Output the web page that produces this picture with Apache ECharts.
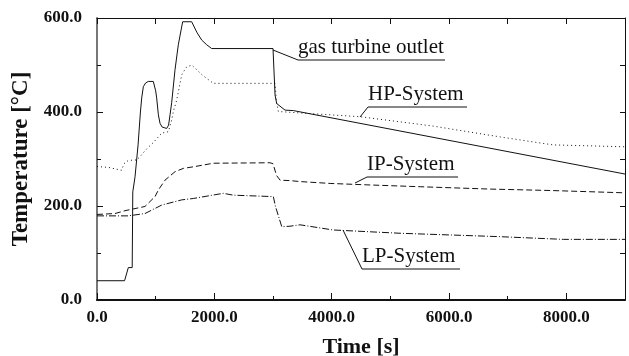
<!DOCTYPE html>
<html>
<head>
<meta charset="utf-8">
<script src="https://cdn.jsdelivr.net/npm/echarts@6/dist/echarts.min.js"></script>
<style>
  html, body { margin: 0; padding: 0; background: #fff; }
  #chart { width: 629px; height: 356px; }
</style>
</head>
<body>
<div id="chart"></div>
<script>
// time [s], temperature [°C]
const gasTurbine = [
  [0, 41], [470, 41], [534, 69], [600, 69], [610, 230], [648, 262], [700, 330],
  [740, 400], [762, 430], [790, 454], [830, 462], [875, 465], [960, 465],
  [1000, 445], [1017, 430], [1046, 394], [1074, 376], [1110, 368], [1188, 365],
  [1220, 372], [1245, 394], [1273, 420], [1330, 490], [1386, 543], [1460, 592],
  [1614, 592], [1642, 590], [1700, 570], [1785, 553], [1870, 543], [1955, 535],
  [3000, 535], [3035, 436], [3063, 418], [3092, 415], [3205, 404], [3347, 403],
  [9000, 268]
]
const hpSystem = [
  [0, 284], [200, 282], [420, 276], [460, 290], [534, 297], [676, 298],
  [733, 305], [850, 322], [960, 335], [1103, 355], [1216, 358], [1273, 383],
  [1301, 401], [1358, 425], [1444, 479], [1520, 495], [1614, 500], [1700, 490],
  [1800, 478], [1983, 461], [3035, 461], [3060, 420], [3092, 401], [3461, 398],
  [4484, 390], [5729, 370], [6871, 347], [7775, 330], [9000, 326]
]
const ipSystem = [
  [0, 182], [307, 184], [477, 190], [818, 199], [989, 220], [1046, 234],
  [1159, 255], [1330, 273], [1472, 280], [1671, 284], [1983, 291], [2950, 292],
  [3000, 290], [3060, 265], [3120, 255], [3290, 254], [3461, 252], [3973, 248],
  [4600, 245], [5507, 241], [6700, 236], [7724, 233], [9000, 228]
]
const lpSystem = [
  [0, 179], [534, 179], [818, 184], [1103, 202], [1444, 213], [1642, 216],
  [2153, 227], [2324, 223], [3006, 220], [3040, 200], [3149, 156], [3290, 157],
  [3461, 160], [4024, 149], [5166, 142], [6815, 135], [7951, 129], [9000, 129]
]

const serif = '"Liberation Serif", "DejaVu Serif", serif'

const chart = echarts.init(document.getElementById('chart'))

function makeSeries(name, data, type) {
  return {
    name: name,
    type: 'line',
    data: data,
    symbol: 'none',
    silent: true,
    lineStyle: { color: '#111', width: 1, type: type },
  }
}

// label text + leader line, in pixels
function annotation(text, x, y, width, lx, ly) {
  return [
    {
      type: 'text', x: x, y: y,
      style: { text: text, font: '21px ' + serif, fill: '#111', textVerticalAlign: 'bottom' },
    },
    {
      type: 'polyline',
      shape: { points: [[lx, ly], [x, y + 2], [x + width, y + 2]] },
      style: { stroke: '#111', lineWidth: 1, fill: null },
    },
  ]
}

chart.setOption({
  animation: false,
  grid: { left: 97, right: 4, top: 18, bottom: 56, outerBoundsMode: 'none', containLabel: false },
  xAxis: [
    {
      type: 'value',
      min: 0, max: 9000, interval: 2000,
      name: 'Time [s]',
      nameLocation: 'middle',
      nameGap: 36,
      nameTextStyle: { fontFamily: serif, fontWeight: 'bold', fontSize: 22, color: '#111' },
      axisLine: { lineStyle: { color: '#111', width: 2 } },
      axisTick: { inside: true, length: 7, lineStyle: { color: '#111' } },
      minorTick: { show: true, splitNumber: 2, length: 4, lineStyle: { color: '#111' } },
      axisLabel: {
        fontFamily: serif, fontWeight: 'bold', fontSize: 17, color: '#111', margin: 9,
        showMaxLabel: false,
        formatter: (v) => v.toFixed(1),
      },
      splitLine: { show: false },
    },
    {
      type: 'value', position: 'top',
      min: 0, max: 9000, interval: 1000,
      axisLine: { onZero: false, lineStyle: { color: '#111', width: 1 } },
      axisTick: { inside: true, length: 6, lineStyle: { color: '#111' } },
      axisLabel: { show: false },
      splitLine: { show: false },
    },
  ],
  yAxis: [
    {
      type: 'value',
      min: 0, max: 600, interval: 200,
      name: 'Temperature [°C]',
      nameLocation: 'middle',
      nameGap: 59,
      nameTextStyle: { fontFamily: serif, fontWeight: 'bold', fontSize: 23, color: '#111' },
      axisLine: { show: true, lineStyle: { color: '#777', width: 2 } },
      axisTick: { show: true, inside: true, length: 6, lineStyle: { color: '#111' } },
      minorTick: { show: true, splitNumber: 2, length: 4, lineStyle: { color: '#111' } },
      axisLabel: {
        fontFamily: serif, fontWeight: 'bold', fontSize: 17, color: '#111', margin: 15,
        formatter: (v) => v.toFixed(1),
      },
      splitLine: { show: false },
    },
    {
      type: 'value', position: 'right',
      min: 0, max: 600, interval: 100,
      axisLine: { show: true, onZero: false, lineStyle: { color: '#111', width: 1 } },
      axisTick: { show: true, inside: true, length: 5, lineStyle: { color: '#111' } },
      axisLabel: { show: false },
      splitLine: { show: false },
    },
  ],
  series: [
    makeSeries('gas turbine outlet', gasTurbine, 'solid'),
    makeSeries('HP-System', hpSystem, [1, 3]),
    makeSeries('IP-System', ipSystem, [6, 3]),
    makeSeries('LP-System', lpSystem, [7, 2, 1, 2]),
  ],
  graphic: [
    ...annotation('gas turbine outlet', 298, 58, 147, 273, 50),
    ...annotation('HP-System', 368, 105, 99, 360, 117),
    ...annotation('IP-System', 367, 175, 91, 355, 183),
    ...annotation('LP-System', 362, 267, 98, 343, 230),
  ],
})
</script>
</body>
</html>
